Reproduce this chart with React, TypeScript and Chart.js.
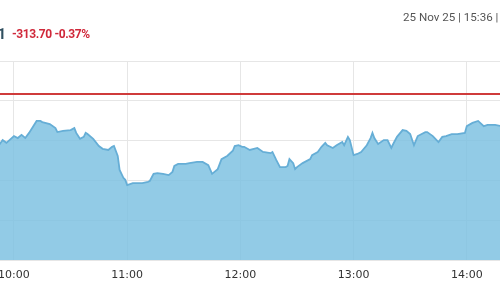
import React, { useEffect, useRef } from "react";
import { Chart, registerables } from "chart.js";

Chart.register(...registerables);

// Intraday times (HH:MM) and index values
const times = [
  "9:52","9:54","9:56","10:00","10:02","10:04","10:06","10:08","10:10","10:12",
  "10:14","10:15","10:19","10:22","10:23","10:26","10:30","10:32","10:33","10:35",
  "10:37","10:38","10:39","10:42","10:45","10:47","10:50","10:52","10:53","10:55",
  "10:56","10:58","10:59","11:00","11:03","11:05","11:08","11:11","11:12","11:14",
  "11:16","11:19","11:22","11:24","11:25","11:27","11:31","11:33","11:37","11:40",
  "11:43","11:45","11:48","11:50","11:53","11:56","11:57","11:59","12:01","12:02",
  "12:05","12:09","12:12","12:16","12:17","12:19","12:21","12:24","12:25","12:26",
  "12:28","12:29","12:30","12:33","12:37","12:38","12:41","12:43","12:45","12:46",
  "12:49","12:51","12:54","12:55","12:57","12:58","13:00","13:02","13:04","13:07",
  "13:09","13:10","13:11","13:13","13:16","13:18","13:20","13:21","13:23","13:26",
  "13:28","13:30","13:32","13:34","13:38","13:39","13:42","13:45","13:47","13:49",
  "13:52","13:55","13:59","14:00","14:03","14:06","14:09","14:11","14:15","14:18",
];
const values = [
  84772,84785,84778,84795,84790,84798,84790,84803,84818,84833,
  84833,84830,84825,84815,84805,84808,84810,84815,84803,84788,
  84793,84803,84800,84788,84770,84763,84760,84768,84770,84745,
  84710,84690,84685,84672,84677,84677,84677,84680,84682,84700,
  84702,84700,84697,84705,84720,84725,84725,84727,84730,84730,
  84722,84700,84712,84737,84745,84758,84770,84772,84768,84768,
  84760,84765,84755,84752,84755,84735,84717,84717,84720,84737,
  84727,84712,84717,84727,84737,84747,84755,84768,84778,84772,
  84765,84772,84780,84772,84793,84785,84747,84750,84755,84772,
  84790,84803,84790,84775,84785,84785,84765,84775,84793,84810,
  84808,84800,84772,84795,84805,84805,84795,84780,84793,84795,
  84800,84800,84803,84820,84828,84833,84820,84823,84823,84820,
];
const prevClose = 84900.71;
const hourTicks = ["10:00", "11:00", "12:00", "13:00", "14:00"];
const yTicks = [84483.6, 84583.6, 84683.6, 84783.6, 84883.6, 84983.6];
const xRange = ["9:52:36", "14:17:36"];
const lastPriceTail = "84,587.01";
const change = "-313.70";
const changePct = "-0.37%";
const stamp = "25 Nov 25 | 15:36 | ";
const status = "Closed";

const toMin = (s: string) => {
  const p = s.split(":").map(Number);
  return p[0] * 60 + p[1] + (p[2] || 0) / 60;
};
const fmt = (m: number) => {
  const h = Math.floor(m / 60);
  const mm = Math.round(m - h * 60);
  return `${h}:${mm < 10 ? "0" : ""}${mm}`;
};

export default function App() {
  const ref = useRef<HTMLCanvasElement | null>(null);

  useEffect(() => {
    document.body.style.margin = "0";
    if (!ref.current) return;
    const xMin = toMin(xRange[0]);
    const xMax = toMin(xRange[1]);
    const chart = new Chart(ref.current, {
      type: "line",
      data: {
        datasets: [
          {
            data: times.map((t, i) => ({ x: toMin(t), y: values[i] })),
            borderColor: "#66aed6",
            borderWidth: 1.8,
            backgroundColor: "rgba(122,191,225,0.82)",
            fill: "start",
            pointRadius: 0,
            tension: 0,
            order: 2,
          },
          {
            data: [
              { x: xMin, y: prevClose },
              { x: xMax, y: prevClose },
            ],
            borderColor: "#cf3b3b",
            borderWidth: 2,
            pointRadius: 0,
            fill: false,
            order: 1,
          },
        ],
      },
      options: {
        animation: false,
        responsive: false,
        maintainAspectRatio: false,
        layout: { padding: { top: 61, left: 0, right: 0, bottom: 0 } },
        plugins: { legend: { display: false }, tooltip: { enabled: false } },
        scales: {
          x: {
            type: "linear",
            min: xMin,
            max: xMax,
            afterBuildTicks: (axis: any) => {
              axis.ticks = hourTicks.map((t) => ({ value: toMin(t) }));
            },
            afterFit: (scale: any) => {
              scale.height = 40;
              scale.paddingLeft = 0;
              scale.paddingRight = 0;
            },
            grid: { color: "#e6e6e6", drawTicks: false, lineWidth: 1 },
            border: { display: false },
            ticks: {
              padding: 9,
              maxRotation: 0,
              autoSkip: false,
              color: "#333",
              font: { family: "DejaVu Sans", size: 11 },
              callback: (v: any) => fmt(Number(v)),
            },
          },
          y: {
            min: yTicks[0],
            max: yTicks[yTicks.length - 1],
            afterBuildTicks: (axis: any) => {
              axis.ticks = yTicks.map((v) => ({ value: v }));
            },
            afterFit: (scale: any) => {
              scale.width = 0;
            },
            grid: { color: "#e6e6e6", drawTicks: false },
            border: { display: false },
            ticks: { display: false },
          },
        },
      },
    });
    return () => chart.destroy();
  }, []);

  return (
    <div style={{ position: "relative", width: 500, height: 300, overflow: "hidden", background: "#fff" }}>
      <canvas ref={ref} width={500} height={300} style={{ position: "absolute", left: 0, top: 0 }} />
      <div style={{ position: "absolute", left: 0, top: 25, width: 6, height: 20 }}>
        <span
          style={{
            position: "absolute",
            right: 0,
            top: 0,
            whiteSpace: "nowrap",
            fontFamily: "Roboto",
            fontWeight: 700,
            fontSize: 15,
            color: "#2f4f5f",
          }}
        >
          {lastPriceTail}
        </span>
      </div>
      <div
        style={{
          position: "absolute",
          left: 12,
          top: 27,
          whiteSpace: "nowrap",
          fontFamily: "Roboto",
          fontWeight: 700,
          fontSize: 12,
          letterSpacing: -0.4,
          color: "#d0283a",
        }}
      >
        {change} {changePct}
      </div>
      <div
        style={{
          position: "absolute",
          left: 403,
          top: 10,
          whiteSpace: "nowrap",
          fontFamily: "Roboto",
          fontSize: 11.6,
          color: "#555",
        }}
      >
        {stamp}
        <span style={{ color: "#3aa845" }}>{status}</span>
      </div>
    </div>
  );
}
